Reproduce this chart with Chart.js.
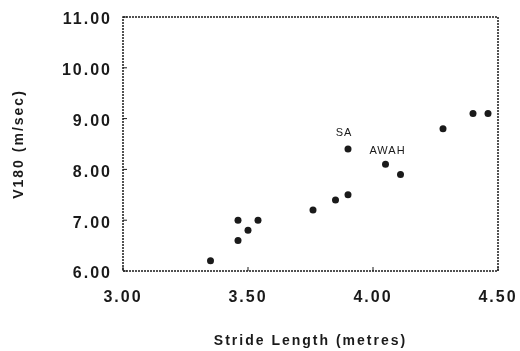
<!DOCTYPE html>
<html>
<head>
<meta charset="utf-8">
<script src="https://cdn.jsdelivr.net/npm/chart.js@4.4.1/dist/chart.umd.min.js"></script>
<style>
	html, body { margin: 0; padding: 0; background: #fff; }
	#wrap { width: 520px; height: 351px; position: relative; }
</style>
</head>
<body>
<div id="wrap"><canvas id="strideChart" width="520" height="351"></canvas></div>
<script>
// stride length (m) and V180 (m/sec)
var strideLength = [ 3.35, 3.46, 3.46, 3.50, 3.54, 3.76, 3.85, 3.90, 3.90, 4.05, 4.11, 4.28, 4.40, 4.46 ];
var v180 = [ 6.2, 7.0, 6.6, 6.8, 7.0, 7.2, 7.4, 7.5, 8.4, 8.1, 7.9, 8.8, 9.1, 9.1 ];

// labelled points (index into the arrays above)
var pointLabels = [ "SA", "AWAH" ];
var pointLabelIndex = [ 8, 9 ];

var xTicks = [ 3.00, 3.50, 4.00, 4.50 ];
var yTicks = [ 6.00, 7.00, 8.00, 9.00, 10.00, 11.00 ];

var ink = "#1a1a1a";
var fontFamily = "'Liberation Sans', Arial, sans-serif";

var points = [];
for( var i = 0; i < strideLength.length; i++ ){
	points.push( { x: strideLength[i], y: v180[i] } );
}

// letter spacing gets reset whenever the canvas is resized, so set it again
function spacing( chart ) {
	chart.ctx.letterSpacing = "2px";
}

// where each point label sits relative to its dot (px)
var labelShift = { "SA": [ -4, -16 ], "AWAH": [ 2, -13 ] };

var framePlugin = {
	id: "frame",
	beforeLayout: spacing,
	beforeDraw: spacing,
	afterDatasetsDraw: function( chart ) {
		var ctx = chart.ctx;
		var a = chart.chartArea;
		var xs = chart.scales.x;
		var ys = chart.scales.y;
		ctx.save();
		ctx.strokeStyle = ink;
		ctx.lineWidth = 1.5;
		ctx.setLineDash( [ 2, 1 ] );
		ctx.strokeRect( a.left, a.top, a.right - a.left, a.bottom - a.top );
		ctx.setLineDash( [] );
		ctx.lineWidth = 1;
		// small inward tick marks
		xTicks.forEach( function( v ) {
			var px = xs.getPixelForValue( v );
			ctx.beginPath(); ctx.moveTo( px, a.bottom ); ctx.lineTo( px, a.bottom - 4 ); ctx.stroke();
		} );
		yTicks.forEach( function( v ) {
			var py = ys.getPixelForValue( v );
			ctx.beginPath(); ctx.moveTo( a.left, py ); ctx.lineTo( a.left + 4, py ); ctx.stroke();
		} );
		// point labels
		ctx.letterSpacing = "1px";
		ctx.fillStyle = ink;
		ctx.font = "11px " + fontFamily;
		ctx.textAlign = "center";
		ctx.textBaseline = "middle";
		var meta = chart.getDatasetMeta( 0 );
		pointLabels.forEach( function( txt, k ) {
			var el = meta.data[ pointLabelIndex[k] ];
			var s = labelShift[ txt ];
			ctx.fillText( txt, el.x + s[0], el.y + s[1] );
		} );
		ctx.restore();
	}
};

var ctx = document.getElementById( "strideChart" ).getContext( "2d" );

new Chart( ctx, {
	type: "scatter",
	data: {
		datasets: [{
			data: points,
			backgroundColor: ink,
			borderColor: ink,
			pointRadius: 3.5,
			pointHoverRadius: 3.5,
			borderWidth: 0
		}]
	},
	options: {
		responsive: false,
		animation: false,
		events: [],
		layout: {
			padding: { left: 0, right: 22, top: 17, bottom: 0 }
		},
		plugins: {
			legend: { display: false },
			tooltip: { enabled: false }
		},
		scales: {
			x: {
				type: "linear",
				min: 3,
				max: 4.5,
				afterBuildTicks: function( scale ) {
					scale.ticks = xTicks.map( function( v ) { return { value: v }; } );
				},
				ticks: {
					color: ink,
					padding: 17,
					maxRotation: 0,
					font: { family: fontFamily, size: 16, weight: "bold" },
					callback: function( value ) { return Number( value ).toFixed( 2 ); }
				},
				grid: { display: false, drawTicks: false },
				border: { display: false },
				title: {
					display: true,
					text: "Stride Length (metres)",
					color: ink,
					padding: { top: 0, bottom: 1 },
					font: { family: fontFamily, size: 14, weight: "bold" }
				},
				afterFit: function( scale ) {
					scale.height = 80;
					scale.paddingLeft = 0;
					scale.paddingRight = 0;
				}
			},
			y: {
				type: "linear",
				min: 6,
				max: 11,
				afterBuildTicks: function( scale ) {
					scale.ticks = yTicks.map( function( v ) { return { value: v }; } );
				},
				ticks: {
					color: ink,
					padding: 11,
					labelOffset: 3,
					font: { family: fontFamily, size: 16, weight: "bold" },
					callback: function( value ) { return Number( value ).toFixed( 2 ); }
				},
				grid: { display: false, drawTicks: false },
				border: { display: false },
				title: {
					display: true,
					text: "V180 (m/sec)",
					color: ink,
					padding: { top: 11, bottom: 0 },
					font: { family: fontFamily, size: 14, weight: "bold" }
				},
				afterFit: function( scale ) {
					scale.width = 123;
					scale.paddingTop = 0;
					scale.paddingBottom = 0;
				}
			}
		}
	},
	plugins: [ framePlugin ]
} );
</script>
</body>
</html>
